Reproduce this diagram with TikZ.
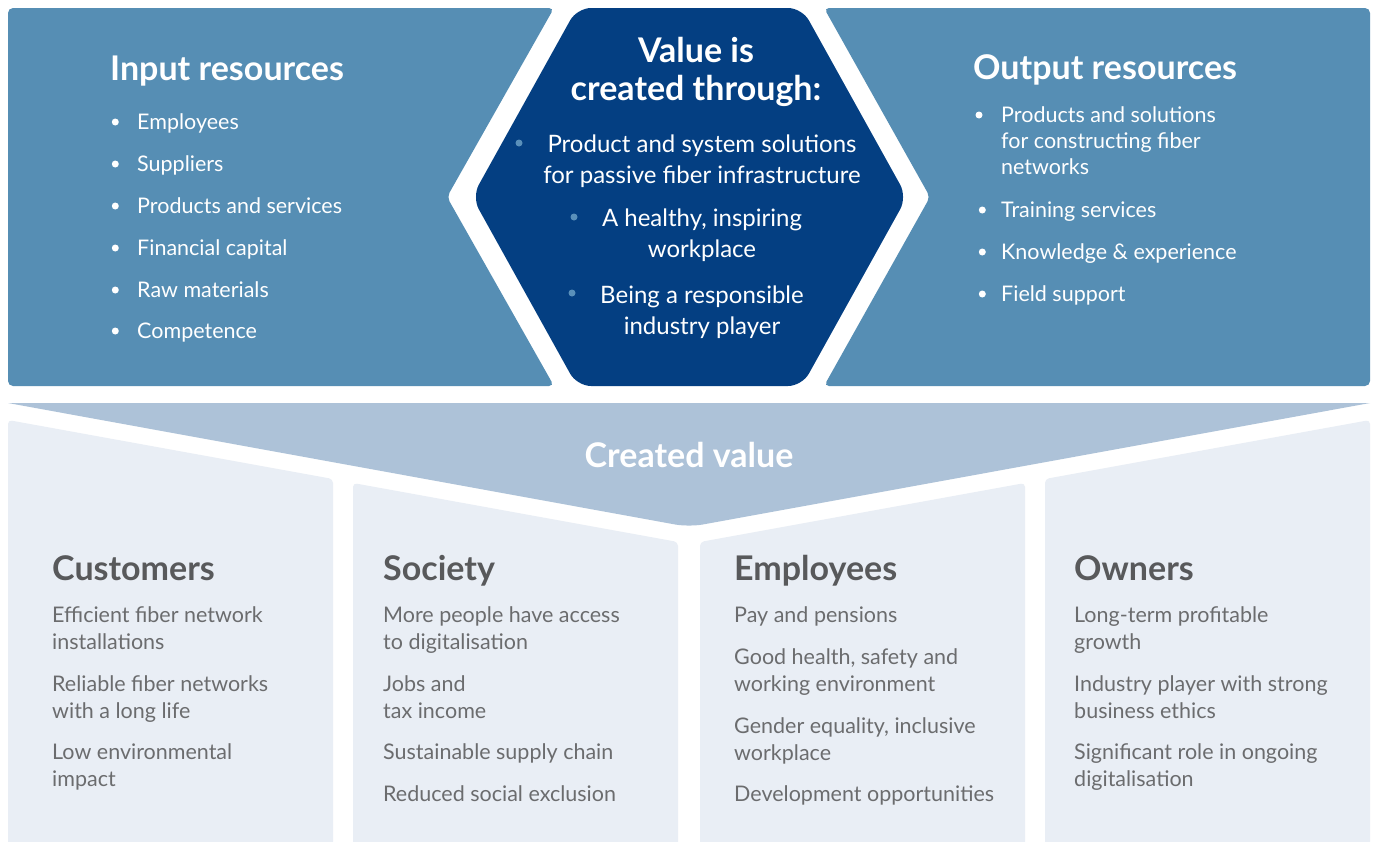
\documentclass[tikz,border=0pt]{standalone}
\usepackage{fontspec}
\setmainfont{Lato}
\usetikzlibrary{positioning}
\definecolor{sideblue}{HTML}{568EB4}
\definecolor{hexblue}{HTML}{043F82}
\definecolor{dotblue}{HTML}{5A90BA}
\definecolor{chevblue}{HTML}{ADC2D8}
\definecolor{panelgray}{HTML}{E9EEF5}
\definecolor{headgray}{HTML}{58595B}
\definecolor{textgray}{HTML}{6B6C6E}
\tikzset{
    panel/.style = {fill = panelgray, rounded corners = 4pt},
    head/.style = {
        anchor = base west, inner sep = 0pt, text = white,
        font = \fontsize{34}{38}\selectfont\bfseries
    },
    item/.style = {
        anchor = base west, inner sep = 0pt, align = left, text = white,
        font = \fontsize{21.5}{26}\selectfont
    },
    hexitem/.style = {
        anchor = base, inner sep = 0pt, align = center, text = white,
        font = \fontsize{24}{31}\selectfont
    },
    dot/.style = {circle, fill = white, inner sep = 0pt, minimum size = 7pt},
    colhead/.style = {head, text = headgray},
    colitem/.style = {item, text = textgray, font = \fontsize{21.5}{27}\selectfont}
}
\begin{document}
\begin{tikzpicture}[x=1pt, y=-1pt]
    \clip (0,0) rectangle (1375,841);
    \fill[white] (0,0) rectangle (1375,841);

    % Top shapes
    \fill[sideblue, rounded corners=5pt] (8,8) -- (554,8) -- (447,197) -- (554,386) -- (8,386) -- cycle;
    \fill[sideblue, rounded corners=5pt] (1370,8) -- (824,8) -- (930,197) -- (824,386) -- (1370,386) -- cycle;
    \fill[hexblue, rounded corners=14pt] (577,8) -- (802,8) -- (907,197) -- (802,386) -- (577,386) -- (472,197) -- cycle;

    % Created value chevron
    \fill[chevblue, rounded corners=14pt] (8,403) [sharp corners] -- (1370,403) [rounded corners=14pt] -- (689,527) [sharp corners] -- cycle;

    % Bottom panels
    \fill[panel] (8,860) -- (8,420) -- (333,479) [sharp corners] -- (333,860) -- cycle;
    \fill[panel] (353,860) -- (353,483) -- (678,542) [sharp corners] -- (678,860) -- cycle;
    \fill[panel] (700,860) -- (700,542) -- (1025,483) [sharp corners] -- (1025,860) -- cycle;
    \fill[panel] (1045,860) -- (1045,479) -- (1370,420) [sharp corners] -- (1370,860) -- cycle;

    % Input resources
    \node[head] (inHead) at (110,80) {Input resources};
    \node[item] (in1) at (137,129) {Employees};
    \node[item] (in2) at (137,171) {Suppliers};
    \node[item] (in3) at (137,213) {Products and services};
    \node[item] (in4) at (137,255) {Financial capital};
    \node[item] (in5) at (137,297) {Raw materials};
    \node[item] (in6) at (137,338) {Competence};
    \node[dot, left=18pt of in1.base west, yshift=7pt] {};
    \node[dot, left=18pt of in2.base west, yshift=7pt] {};
    \node[dot, left=18pt of in3.base west, yshift=7pt] {};
    \node[dot, left=18pt of in4.base west, yshift=7pt] {};
    \node[dot, left=18pt of in5.base west, yshift=7pt] {};
    \node[dot, left=18pt of in6.base west, yshift=7pt] {};

    % Value is created through (base = last line)
    \node[head, anchor=base, align=center] (valHead) at (696,100) {Value is\\created through:};
    \node[hexitem] (val1) at (702,183) {Product and system solutions\\for passive fiber infrastructure};
    \node[hexitem] (val2) at (702,257) {A healthy, inspiring\\workplace};
    \node[hexitem] (val3) at (702,334) {Being a responsible\\industry player};
    \node[dot, fill=dotblue] at (519,143) {};
    \node[dot, fill=dotblue] at (574,217) {};
    \node[dot, fill=dotblue] at (572,293) {};

    % Output resources
    \node[head] (outHead) at (973,79) {Output resources};
    \node[item] (out1) at (1001,174) {Products and solutions\\for constructing fiber\\networks};
    \node[item] (out2) at (1001,217) {Training services};
    \node[item] (out3) at (1001,259) {Knowledge \& experience};
    \node[item] (out4) at (1001,301) {Field support};
    \node[dot] at (979,115) {};
    \node[dot, left=15pt of out2.base west, yshift=7pt] {};
    \node[dot, left=15pt of out3.base west, yshift=7pt] {};
    \node[dot, left=15pt of out4.base west, yshift=7pt] {};

    \node[head, anchor=base] (created) at (689,467) {Created value};

    % Customers
    \node[colhead] (cust) at (52,580) {Customers};
    \node[colitem] (cust1) at (52,649) {Efficient fiber network\\installations};
    \node[colitem] (cust2) at (52,718) {Reliable fiber networks\\with a long life};
    \node[colitem] (cust3) at (52,786) {Low environmental\\impact};

    % Society
    \node[colhead] (soc) at (383,580) {Society};
    \node[colitem] (soc1) at (383,649) {More people have access\\to digitalisation};
    \node[colitem] (soc2) at (383,718) {Jobs and\\tax income};
    \node[colitem] (soc3) at (383,759) {Sustainable supply chain};
    \node[colitem] (soc4) at (383,801) {Reduced social exclusion};

    % Employees
    \node[colhead] (emp) at (734,580) {Employees};
    \node[colitem] (emp1) at (734,622) {Pay and pensions};
    \node[colitem] (emp2) at (734,691) {Good health, safety and\\working environment};
    \node[colitem] (emp3) at (734,760) {Gender equality, inclusive\\workplace};
    \node[colitem] (emp4) at (734,801) {Development opportunities};

    % Owners
    \node[colhead] (own) at (1074,580) {Owners};
    \node[colitem] (own1) at (1074,649) {Long-term profitable\\growth};
    \node[colitem] (own2) at (1074,718) {Industry player with strong\\business ethics};
    \node[colitem] (own3) at (1074,786) {Significant role in ongoing\\digitalisation};

\end{tikzpicture}
\end{document}
